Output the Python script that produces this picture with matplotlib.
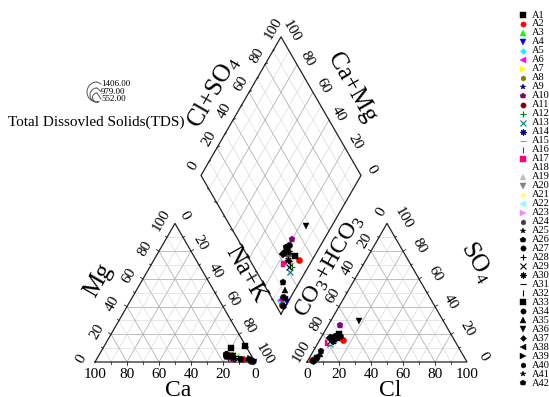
import numpy as np
import matplotlib.pyplot as plt
from matplotlib.patches import Arc

plt.rcParams['font.family'] = 'Liberation Serif'
plt.rcParams['mathtext.fontset'] = 'custom'
plt.rcParams['mathtext.rm'] = 'Liberation Serif'

# sample data (meq %)
samples = ['A%d' % i for i in range(1, 43)]
ca = [10, 6, 2, 0.5, 3, 4, 11, 13, 12, 15, 2, 8, 7.5, 12, 10, 9, 14, 10, 11, 12, 10,
      9, 13, 12, 14, 15, 3, 11, 10, 12, 10, 9, 0.5, 16, 3, 12, 15, 2, 13, 1, 14, 8]
mg = [10, 2.5, 1, 0, 1.5, 1, 3, 5, 4, 5, 0.6, 2, 2, 3.8, 3, 3, 2, 3, 4, 3, 5,
      4, 3, 5, 4, 6, 2, 3, 2, 3, 4, 3, 11.5, 4, 3, 4, 5, 1, 6, 0.5, 3, 2]
cl = [10, 14.5, 3, 5, 4, 3.5, 9, 8, 8.5, 7.3, 2.5, 9, 8, 9, 8, 8.5, 6, 7, 9, 8, 7,
      8, 9, 8, 9, 8, 4, 8, 7, 9, 8, 8, 10, 11, 5, 17.7, 6, 4, 7, 3, 10, 5]
so4 = [17.5, 16, 2, 3, 1, 1.5, 17, 18, 16.5, 26.7, 1.5, 15, 13, 15.6, 16, 15, 14, 15, 16, 17, 18,
       14, 17, 18, 18, 19, 3, 16, 15, 15, 16, 15, 20, 19, 6, 29.6, 17, 4, 18, 1, 18, 8]

# Origin style marker / colour cycle
markers = ['s', 'o', '^', 'v', 'D', '<', '>', 'h', '*', 'p', 'o', '+', 'x', (8, 2, 0), '_', '|'] * 3
colors = ['#000000', '#FF0000', '#00FF00', '#0000FF', '#00FFFF', '#FF00FF', '#FFFF00', '#808000',
          '#000080', '#800080', '#800000', '#008000', '#008080', '#0000A0', '#FF8000', '#8000FF',
          '#FF0080', '#FFFFFF', '#C0C0C0', '#808080', '#FFFF80', '#80FFFF', '#FF80FF', '#404040'] + ['#000000'] * 18
line_markers = ['+', 'x', '_', '|', (8, 2, 0)]

ticks = [0, 20, 40, 60, 80, 100]
S3 = np.sqrt(3) / 2
OFF_R = 1.325      # left edge of anion triangle
DB = (1.1625, 0.30)  # bottom vertex of diamond


def px(x, y):
    return (x - 95) / 160, (362 - y) / 160


def tri(ox, a, b):
    # a: bottom-right corner fraction, b: top corner fraction
    return ox + a + b / 2, b * S3


def diam(cs, cm):
    return DB[0] + 0.5 * (cs - cm), DB[1] + S3 * (cs + cm)


fig = plt.figure(figsize=(5.49, 3.97), dpi=100)
ax = fig.add_axes([0, 0, 1, 1])
ax.set_xlim(-95 / 160, (549 - 95) / 160)
ax.set_ylim((362 - 397) / 160, 362 / 160)
ax.axis('off')

# grids
for k in range(1, 10):
    t = k / 10
    col, lw = ('#b4b4b4', 0.6) if k % 2 == 0 else ('#dcdcdc', 0.5)
    for ox in (0, OFF_R):
        for p, q in [((0, t), (1 - t, t)), ((t, 0), (t, 1 - t)), ((1 - t, 0), (0, 1 - t))]:
            x0, y0 = tri(ox, *p)
            x1, y1 = tri(ox, *q)
            ax.plot([x0, x1], [y0, y1], color=col, lw=lw, zorder=1)
    for p, q in [((t, 0), (t, 1)), ((0, t), (1, t))]:
        x0, y0 = diam(*p)
        x1, y1 = diam(*q)
        ax.plot([x0, x1], [y0, y1], color=col, lw=lw, zorder=1)

# outlines
for ox in (0, OFF_R):
    ax.plot([ox, ox + 1, ox + 0.5, ox], [0, 0, S3, 0], color='#222222', lw=0.9, zorder=2)
dv = [diam(0, 0), diam(1, 0), diam(1, 1), diam(0, 1), diam(0, 0)]
ax.plot([d[0] for d in dv], [d[1] for d in dv], color='#222222', lw=0.9, zorder=2)

# small outward ticks
tl = 3 / 160
for k in range(1, 10):
    t = k / 10
    L = tl if k % 2 == 0 else tl * 0.6
    for ox in (0, OFF_R):
        ax.plot([ox + t, ox + t], [0, -L], color='#222222', lw=0.6)
        x, y = tri(ox, 0, t)
        ax.plot([x, x - L * S3], [y, y + L * 0.5], color='#222222', lw=0.6)
        x, y = tri(ox, 1 - t, t)
        ax.plot([x, x + L * S3], [y, y + L * 0.5], color='#222222', lw=0.6)
    x, y = diam(0, t)
    ax.plot([x, x - L * S3], [y, y + L * 0.5], color='#222222', lw=0.6)
    x, y = diam(t, 1)
    ax.plot([x, x + L * S3], [y, y + L * 0.5], color='#222222', lw=0.6)

# tick labels
tfs = 11
d = 1 / 160
for v in ticks:
    f = v / 100
    # cation: Ca bottom (100 left -> 0 right)
    x, y = tri(0, 1 - f, 0)
    ax.text(x, y - 13 * d, str(v), fontsize=tfs, ha='center', va='center')
    # cation: Mg left side
    x, y = tri(0, 0, f)
    ax.text(x - 14 * d, y + 3 * d, str(v), fontsize=tfs, ha='center', va='center', rotation=60)
    # cation: Na+K right side (0 top -> 100 bottom)
    x, y = tri(0, f, 1 - f)
    ax.text(x + 9 * d, y + 8 * d, str(v), fontsize=tfs, ha='center', va='center', rotation=-60)
    # anion: Cl bottom
    x, y = tri(OFF_R, f, 0)
    ax.text(x, y - 13 * d, str(v), fontsize=tfs, ha='center', va='center')
    # anion: CO3+HCO3 left side (0 top -> 100 bottom)
    x, y = tri(OFF_R, 0, 1 - f)
    ax.text(x - 6 * d, y + 11 * d, str(v), fontsize=tfs, ha='center', va='center', rotation=60)
    # anion: SO4 right side
    x, y = tri(OFF_R, 1 - f, f)
    ax.text(x + 16 * d, y + 5 * d, str(v), fontsize=tfs, ha='center', va='center', rotation=-60)
    # diamond: Cl+SO4 upper left
    x, y = diam(0, 0)
    x, y = x - 0.5 + 0.5 * f, y + S3 + S3 * f
    ax.text(x - 8 * d, y + 9 * d, str(v), fontsize=tfs, ha='center', va='center', rotation=60)
    # diamond: Ca+Mg upper right
    x, y = diam(1, f)
    ax.text(x + 10 * d, y + 6 * d, str(v), fontsize=tfs, ha='center', va='center', rotation=-60)

# axis titles
afs = 18
ax.text(*px(98, 280), 'Mg', fontsize=afs, rotation=60, ha='center', va='center')
ax.text(*px(178, 390), 'Ca', fontsize=17, ha='center', va='center')
ax.text(*px(246, 275), 'Na+K', fontsize=afs, rotation=-60, ha='center', va='center')
ax.text(*px(330, 266), r'CO$_3$+HCO$_3$', fontsize=17, rotation=60, ha='center', va='center')
ax.text(*px(477, 262), r'SO$_4$', fontsize=afs, rotation=-60, ha='center', va='center')
ax.text(*px(390, 390), 'Cl', fontsize=17, ha='center', va='center')
ax.text(*px(214, 92), r'Cl+SO$_4$', fontsize=afs, rotation=60, ha='center', va='center')
ax.text(*px(352, 88), 'Ca+Mg', fontsize=afs, rotation=-60, ha='center', va='center')

# data points
for i in range(len(samples)):
    m, c = markers[i], colors[i]
    kw = dict(marker=m, ls='none', zorder=5)
    if m in line_markers:
        kw.update(color=c, ms=5, mew=0.8)
    else:
        kw.update(mfc=c, mec=c, ms=4.5 if m != 'D' else 3.6, mew=0.3)
    na = 100 - ca[i] - mg[i]
    ax.plot(*tri(0, na / 100, mg[i] / 100), **kw)
    ax.plot(*tri(OFF_R, cl[i] / 100, so4[i] / 100), **kw)
    ax.plot(*diam((cl[i] + so4[i]) / 100, (ca[i] + mg[i]) / 100), **kw)

    # legend entry
    ly = 15 + i * 8.98
    kw2 = dict(kw)
    kw2['ms'] = kw['ms'] * 0.85
    ax.plot(*px(523, ly), **kw2)
    ax.text(*px(532, ly), samples[i], fontsize=7.5, ha='left', va='center')

# TDS size legend
tds_labels = ['1406.00', '979.00', '552.00']
radii = [10, 7, 4.5]
label_y = [84, 91.5, 99]
for r, lab, yl in zip(radii, tds_labels, label_y):
    cx, cy = px(97, 102 - r)
    ax.add_patch(Arc((cx, cy), 2 * r / 160, 2 * r / 160, theta1=90, theta2=285,
                     color='#555555', lw=0.7))
    x0, y0 = px(97, 102 - 2 * r)
    x1, y1 = px(101, yl)
    ax.plot([x0, x1], [y0, y1], color='#555555', lw=0.7)
    ax.text(*px(101, yl), lab, fontsize=6.5, ha='left', va='center')
ax.text(*px(8, 122), 'Total Dissovled Solids(TDS)', fontsize=11, ha='left', va='center')

fig.savefig('out.png', dpi=100)
